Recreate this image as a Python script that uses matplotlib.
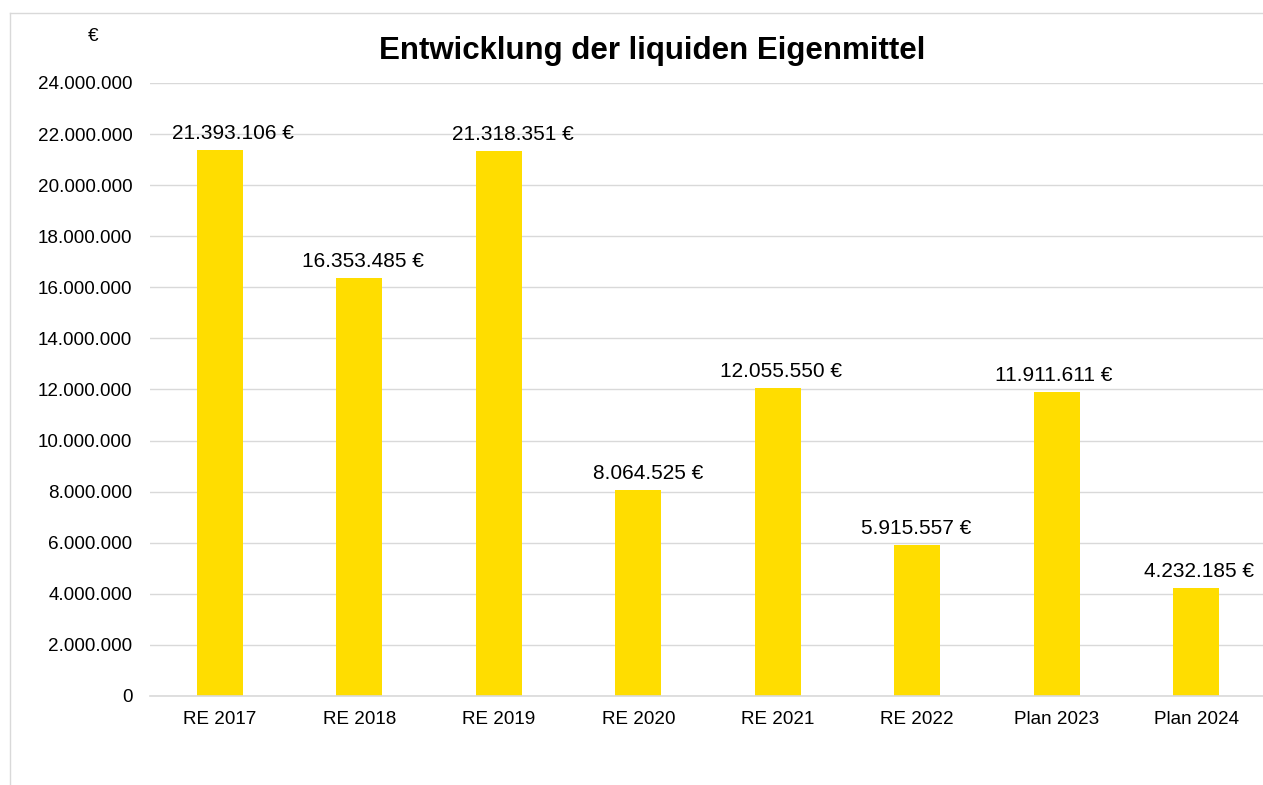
import matplotlib
matplotlib.use("Agg")
import matplotlib.pyplot as plt
from matplotlib.ticker import FuncFormatter, MultipleLocator
from matplotlib.lines import Line2D

plt.rcParams['font.family'] = ['Liberation Sans', 'DejaVu Sans']

categories = ["RE 2017", "RE 2018", "RE 2019", "RE 2020", "RE 2021", "RE 2022", "Plan 2023", "Plan 2024"]
values = [21393106, 16353485, 21318351, 8064525, 12055550, 5915557, 11911611, 4232185]
title = "Entwicklung der liquiden Eigenmittel"
unit_label = "€"

# label horizontal nudges (pixels), as placed in the original
label_dx = [13, 4, 14.5, 9.5, 3.7, -1, -2.6, 2.5]

W, H = 1263, 785
fig = plt.figure(figsize=(W / 100, H / 100), dpi=100)
fig.patch.set_facecolor("white")

ax = fig.add_axes([150 / W, 1 - 696 / H, (1266 - 150) / W, (696 - 83) / H])
x = list(range(len(categories)))
ax.bar(x, values, width=0.33, color="#FFDD00", zorder=3)

ax.set_xlim(-0.5, len(categories) - 0.5)
ax.set_ylim(0, 24000000)
ax.yaxis.set_major_locator(MultipleLocator(2000000))
ax.yaxis.set_major_formatter(FuncFormatter(lambda v, p: f"{v:,.0f}".replace(",", ".")))
ax.set_xticks(x)
ax.set_xticklabels(categories)
ax.tick_params(axis="y", length=0, pad=12.7, labelsize=13.6, colors="black")
ax.tick_params(axis="x", length=0, pad=11, labelsize=13.6, colors="black")
for s in ax.spines.values():
    s.set_visible(False)
ax.grid(axis="y", color="#D9D9D9", linewidth=1.0, zorder=0)
ax.set_axisbelow(True)
ax.axhline(0, color="#D9D9D9", linewidth=1.2, zorder=4, clip_on=False)

for xi, v, dx in zip(x, values, label_dx):
    ax.annotate(f"{v:,}".replace(",", ".") + " €", (xi, v), xytext=(dx, 11),
                textcoords="offset pixels", ha="center", va="baseline",
                fontsize=15, color="black", zorder=5)

fig.text(652.5 / W, 1 - 59.5 / H, title, ha="center", va="baseline",
         fontsize=22.5, fontweight="bold", color="black")
fig.text(92.7 / W, 1 - 36.7 / H, unit_label, ha="center", va="center",
         fontsize=13.6, color="black")

# chart area border (top and left edges visible)
fig.add_artist(Line2D([10 / W, 1.0], [1 - 13 / H, 1 - 13 / H], transform=fig.transFigure,
                      color="#D9D9D9", linewidth=1.0))
fig.add_artist(Line2D([10 / W, 10 / W], [1 - 13 / H, 0.0], transform=fig.transFigure,
                      color="#D9D9D9", linewidth=1.0))

fig.savefig("out.png", dpi=100, facecolor="white")
